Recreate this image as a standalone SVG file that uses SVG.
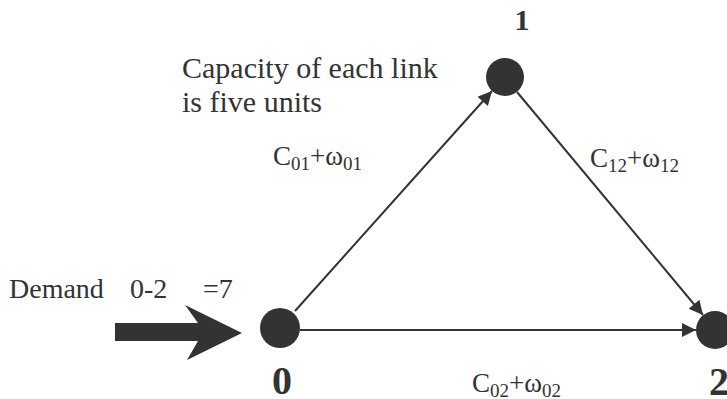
<svg xmlns="http://www.w3.org/2000/svg" width="727" height="399" viewBox="0 0 727 399">
<style>
text { font-family: "Liberation Serif", "Times New Roman", serif; fill: #333; }
.lbl { font-size: 27px; }
.sub { font-size: 19px; }
.num { font-weight: bold; }
.edge { stroke: #333; stroke-width: 2; fill: none; }
.node { fill: #333; }
</style>
<defs>
<marker id="ah" viewBox="0 0 10 10" refX="10" refY="5" markerWidth="18" markerHeight="14" markerUnits="userSpaceOnUse" orient="auto">
<path d="M0,0 L10,5 L0,10 z" fill="#333"/>
</marker>
</defs>
<rect width="727" height="399" fill="#fff"/>
<g id="connectors">
<line class="edge" x1="295" y1="311" x2="492" y2="91" marker-end="url(#ah)"/>
<line class="edge" x1="517" y1="92" x2="703" y2="315" marker-end="url(#ah)"/>
<line class="edge" x1="300" y1="330" x2="696" y2="330" marker-end="url(#ah)"/>
</g>
<g id="node0">
<circle class="node" cx="280" cy="328" r="20"/>
<text class="num" x="282" y="394" font-size="40" text-anchor="middle">0</text>
</g>
<g id="node1">
<circle class="node" cx="505" cy="77" r="19"/>
<text class="num" x="522" y="30" font-size="30" text-anchor="middle">1</text>
</g>
<g id="node2">
<circle class="node" cx="715" cy="330" r="19"/>
<text class="num" x="719" y="395" font-size="40" text-anchor="middle">2</text>
</g>
<g id="demand">
<polygon points="115,323 198,323 185,305 242,333 187,360 198,341 115,341" fill="#333"/>
<text x="9" y="298" font-size="28">Demand</text>
<text x="130" y="298" font-size="28">0-2</text>
<text x="203" y="298" font-size="28">=7</text>
</g>
<g id="labels">
<text x="182" y="78" font-size="30">Capacity of each link</text>
<text x="182" y="112" font-size="30">is five units</text>
<text class="lbl" x="273" y="165">C<tspan class="sub" dy="5">01</tspan><tspan dy="-5">+ω</tspan><tspan class="sub" dy="5">01</tspan></text>
<text class="lbl" x="590" y="167">C<tspan class="sub" dy="5">12</tspan><tspan dy="-5">+ω</tspan><tspan class="sub" dy="5">12</tspan></text>
<text class="lbl" x="472" y="392">C<tspan class="sub" dy="5">02</tspan><tspan dy="-5">+ω</tspan><tspan class="sub" dy="5">02</tspan></text>
</g>
</svg>
